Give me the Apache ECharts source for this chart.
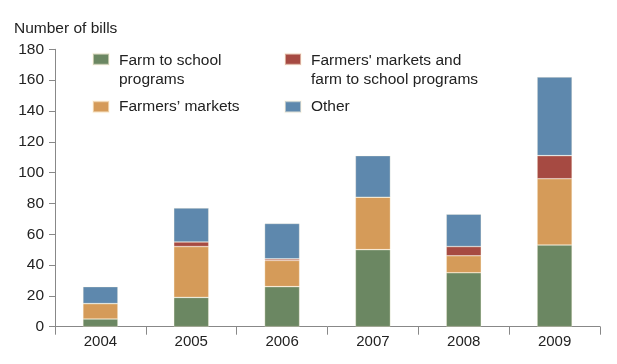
<!DOCTYPE html>
<html>
<head>
<meta charset="utf-8">
<script src="https://cdn.jsdelivr.net/npm/echarts@6/dist/echarts.min.js"></script>
<style>html,body{margin:0;padding:0;background:#fff}#c{width:617px;height:364px}</style>
</head>
<body>
<div id="c"></div>
<script>
var years = ['2004', '2005', '2006', '2007', '2008', '2009'];
var farmToSchool = [5, 19, 26, 50, 35, 53];
var farmersMarkets = [10, 33, 17, 34, 11, 43];
var both = [0, 3, 1, 0, 6, 15];
var other = [11, 22, 23, 27, 21, 51];
var yTicks = { min: 0, max: 180, interval: 20 };

var names = ['Farm to school\nprograms', 'Farmers\u2019 markets', 'Farmers\' markets and\nfarm to school programs', 'Other'];
var colors = ['#6b8762', '#d59b59', '#a64a42', '#5e88ad'];
var seriesData = [farmToSchool, farmersMarkets, both, other];

var FONT = 'Liberation Sans, Arial, sans-serif';
var textCol = '#222';
var LF = 15.5;

function mkLegend(name, left, top, twoLine) {
  var lg = {
    data: [name],
    left: left, top: top,
    orient: 'vertical',
    padding: 0,
    itemWidth: 16, itemHeight: 11,
    icon: 'rect',
    selectedMode: false,
    textStyle: {
      fontFamily: FONT, fontSize: LF, color: textCol, lineHeight: 18.5,
      padding: [0, 0, 0, 5],
      rich: {
        s: { fontSize: 2, lineHeight: 21.5 },
        a: { fontFamily: FONT, fontSize: LF, color: textCol, lineHeight: 18.5 }
      }
    }
  };
  if (twoLine) {
    lg.formatter = function (n) {
      return '{s| }\n' + n.split('\n').map(function (l) { return '{a|' + l + '}'; }).join('\n');
    };
  }
  return lg;
}

var option = {
  animation: false,
  title: {
    text: 'Number of bills', left: 14, top: 20.5, padding: 0,
    textStyle: { fontFamily: FONT, fontSize: LF, fontWeight: 'normal', color: textCol }
  },
  legend: [
    mkLegend(names[0], 92, 30, true),
    mkLegend(names[1], 92, 97.5, false),
    mkLegend(names[2], 284, 30, true),
    mkLegend(names[3], 284, 97.5, false)
  ],
  grid: { left: 55, right: 17, top: 49.3, bottom: 364 - 326.7 },
  xAxis: {
    type: 'category', data: years,
    axisLine: { lineStyle: { color: '#888', width: 1 } },
    axisTick: { show: true, length: 8, lineStyle: { color: '#888' } },
    axisLabel: { fontFamily: FONT, fontSize: 15, color: textCol, margin: 8 }
  },
  yAxis: {
    type: 'value', min: yTicks.min, max: yTicks.max, interval: yTicks.interval,
    axisLine: { show: true, lineStyle: { color: '#888', width: 1 } },
    axisTick: { show: true, length: 6, lineStyle: { color: '#888' } },
    splitLine: { show: false },
    axisLabel: { fontFamily: FONT, fontSize: LF, color: textCol, margin: 11 }
  },
  series: seriesData.map(function (d, i) {
    return {
      name: names[i], type: 'bar', stack: 'total', data: d,
      barWidth: 35,
      itemStyle: { color: colors[i], borderColor: 'rgba(255,245,225,0.55)', borderWidth: 0.6 }
    };
  })
};
var chart = echarts.init(document.getElementById('c'), null, { renderer: 'canvas' });
chart.setOption(option);
</script>
</body>
</html>
